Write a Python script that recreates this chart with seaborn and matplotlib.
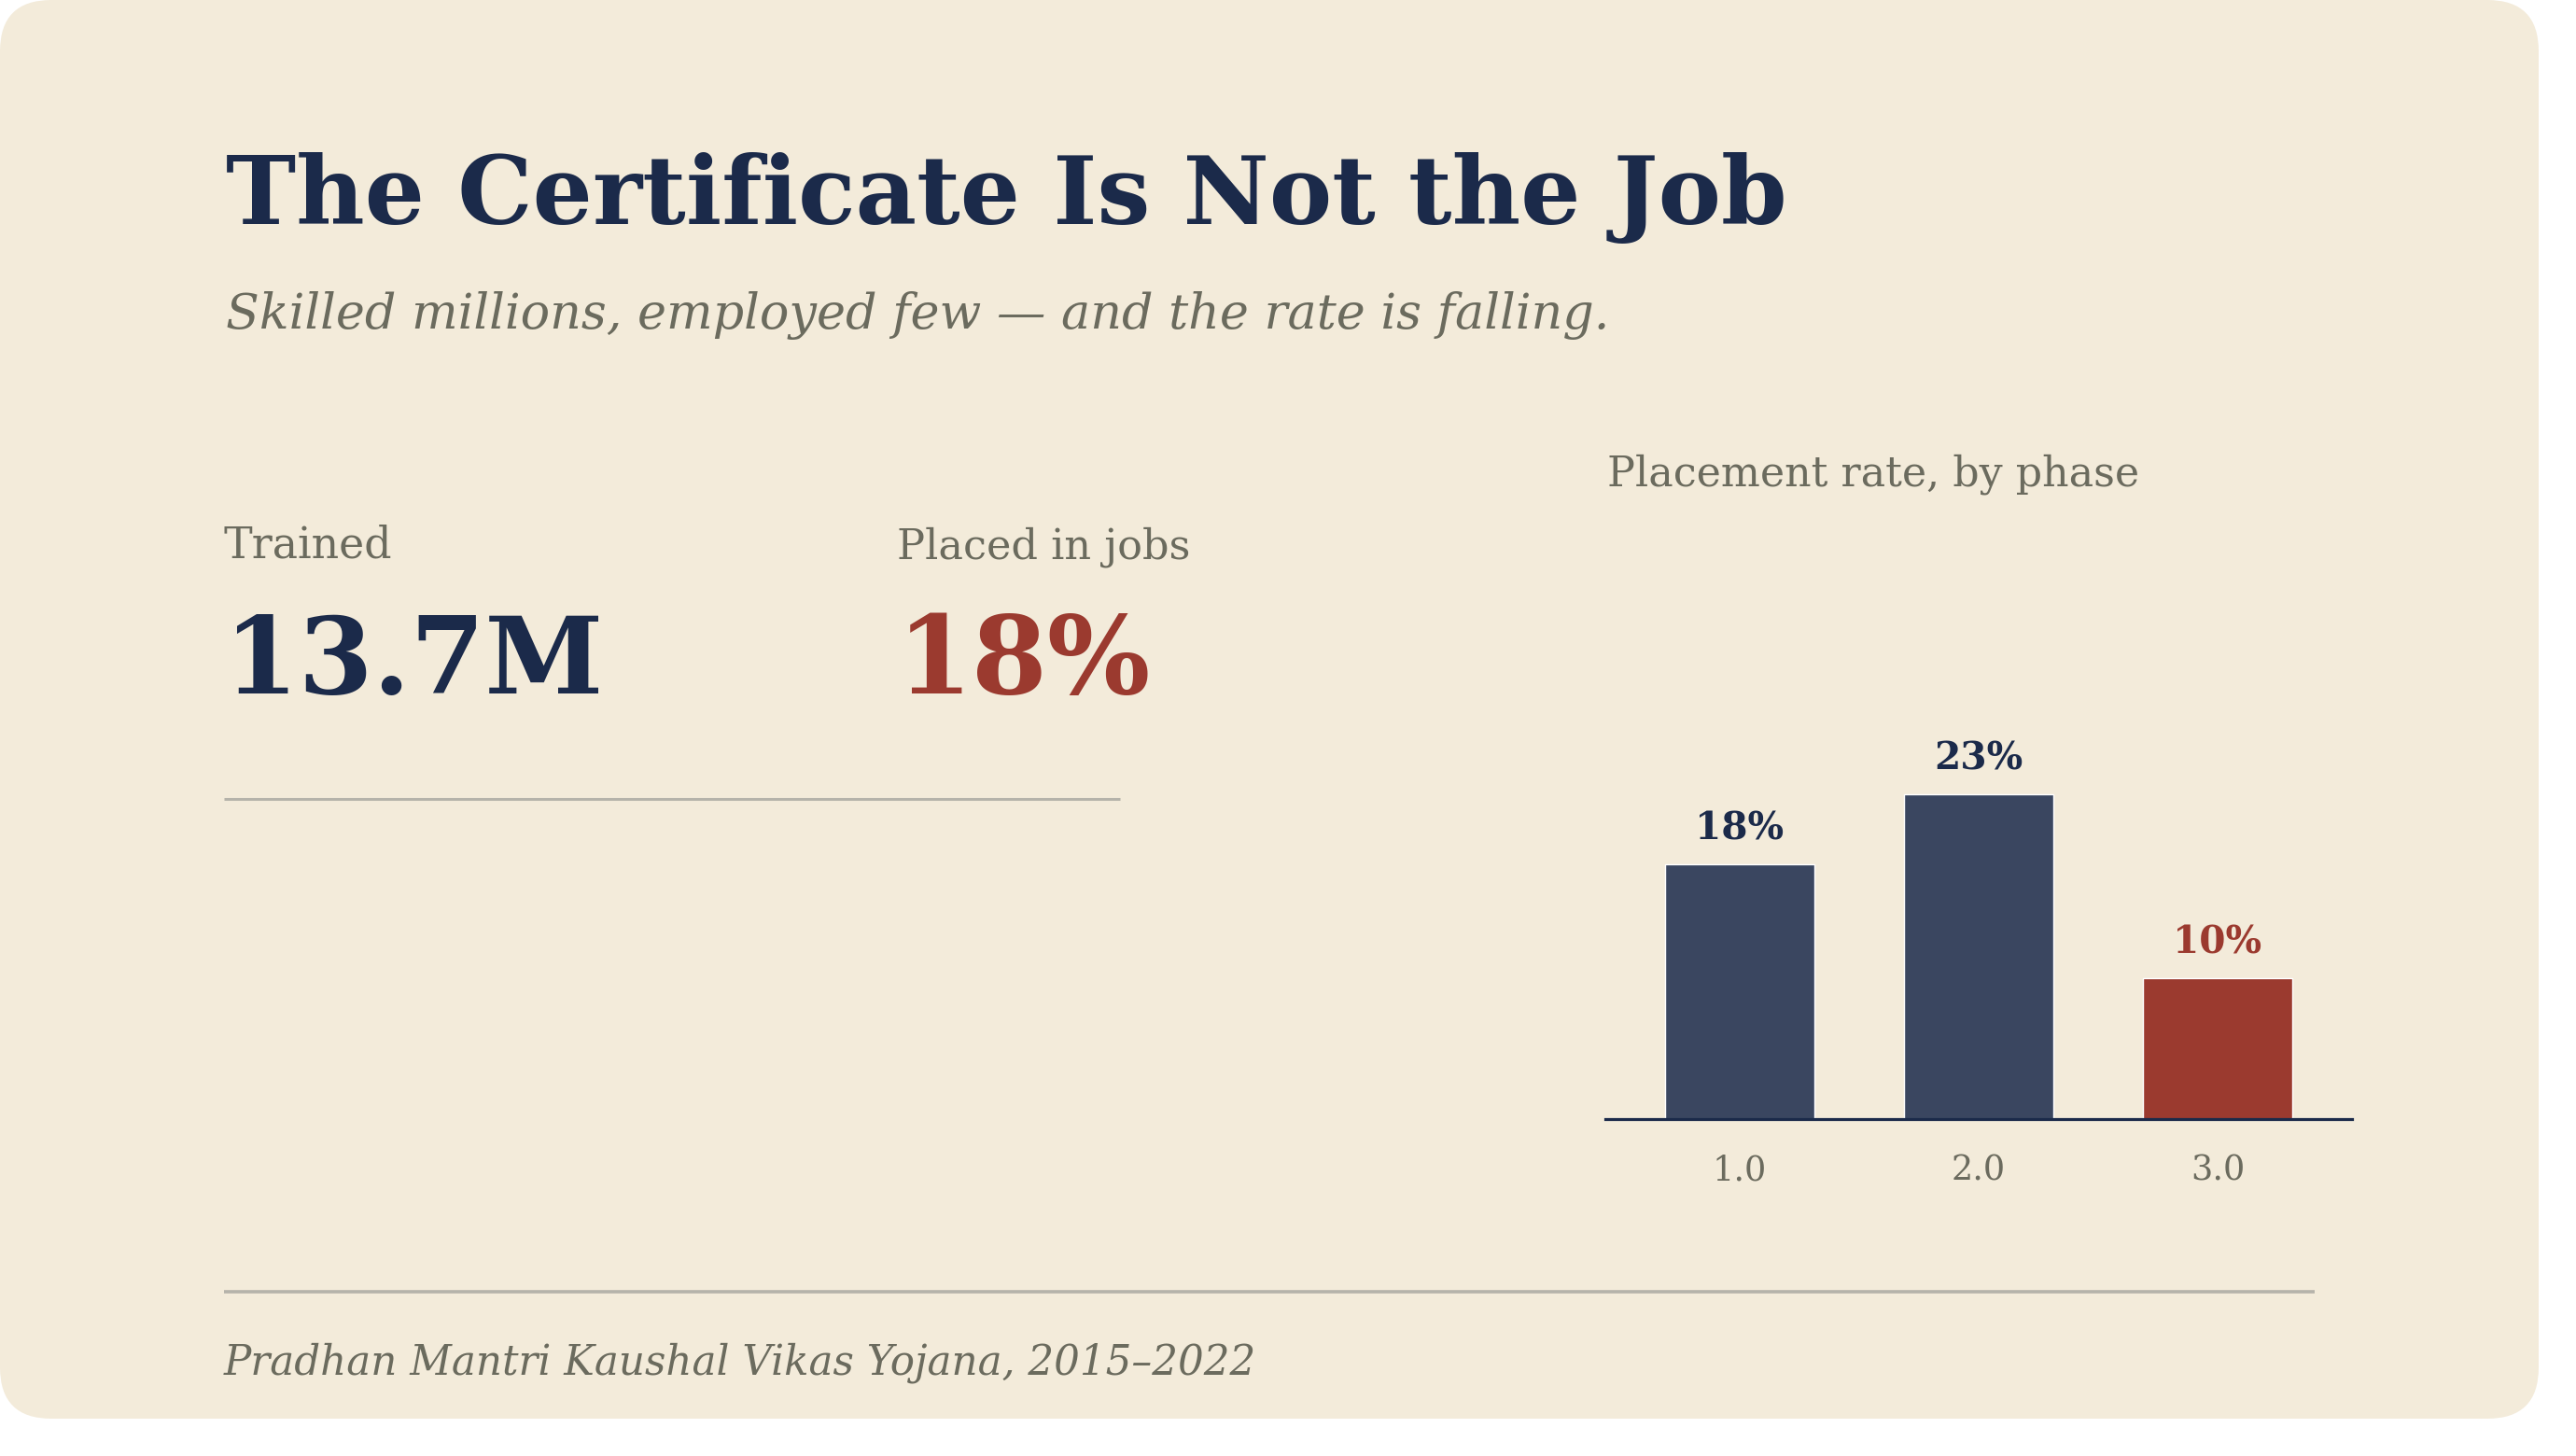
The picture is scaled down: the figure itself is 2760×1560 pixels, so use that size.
import matplotlib
matplotlib.use("Agg")
import matplotlib.pyplot as plt
from matplotlib.patches import FancyBboxPatch
import seaborn as sns
import pandas as pd

# ---- data ----
title = "The Certificate Is Not the Job"
subtitle = "Skilled millions, employed few \u2014 and the rate is falling."
kpi_labels = ["Trained", "Placed in jobs"]
kpi_values = ["13.7M", "18%"]
chart_title = "Placement rate, by phase"
phases = [1.0, 2.0, 3.0]
rates = [18, 23, 10]
source = "Pradhan Mantri Kaushal Vikas Yojana, 2015\u20132022"

# ---- style ----
BG = "#F3EBDA"
NAVY = "#1B2A4A"
BAR_NAVY = "#3A4660"
RED = "#9B3A2F"
GRAY = "#6B6B5E"
RULE = "#B5B3AA"

sns.set_style("white")
plt.rcParams["font.family"] = ["DejaVu Serif", "DejaVu Sans"]

W, H = 2760, 1560
fig = plt.figure(figsize=(W / 100, H / 100), dpi=100)
fig.patch.set_facecolor("white")
bg = fig.add_axes([0, 0, 1, 1])
bg.set_xlim(0, W)
bg.set_ylim(H, 0)
bg.axis("off")
bg.add_patch(FancyBboxPatch((0, 0), 2720, 1520,
                            boxstyle="round,pad=0,rounding_size=55",
                            fc=BG, ec="none", zorder=0))

renderer = fig.canvas.get_renderer()


def fit_text(ax, x, y, s, target_w, size0=40, **kw):
    t = ax.text(x, y, s, fontsize=size0, va="baseline", ha="left", **kw)
    w = t.get_window_extent(renderer).width
    t.set_fontsize(size0 * target_w / w)
    return t


fit_text(bg, 242, 240, title, 1671, weight="bold", color=NAVY)
fit_text(bg, 242, 352, subtitle, 1482, style="italic", color=GRAY)

fit_text(bg, 240, 598, kpi_labels[0], 180, color=GRAY)
fit_text(bg, 961, 598, kpi_labels[1], 314, color=GRAY)
fit_text(bg, 240, 743, kpi_values[0], 406, weight="bold", color=NAVY)
fit_text(bg, 961, 743, kpi_values[1], 272, weight="bold", color=RED)

bg.plot([240, 1200], [856, 856], color=RULE, lw=2.2, solid_capstyle="butt")
bg.plot([240, 2480], [1384, 1384], color=RULE, lw=2.6, solid_capstyle="butt")

fit_text(bg, 1722, 520, chart_title, 569, color=GRAY)
fit_text(bg, 240, 1472, source, 1104, style="italic", color=GRAY)

# ---- bar chart ----
px_per_unit = 15.15
ymax = 30
ax_left, ax_right, ax_base = 1720, 2520, 1199
ax_h = ymax * px_per_unit
ax = fig.add_axes([ax_left / W, (H - ax_base) / H, (ax_right - ax_left) / W, ax_h / H])
ax.set_facecolor("none")

df = pd.DataFrame({"phase": phases, "rate": rates})
bar_colors = [BAR_NAVY, BAR_NAVY, RED]
sns.barplot(data=df, x="phase", y="rate", hue="phase", palette=bar_colors,
            legend=False, width=0.625, saturation=1, ax=ax, zorder=2)
ax.set_xlim(-0.5625, 2.5625)
ax.set_ylim(0, ymax)
for sp in ["top", "right", "left"]:
    ax.spines[sp].set_visible(False)
ax.spines["bottom"].set_color(NAVY)
ax.spines["bottom"].set_linewidth(2.3)
ax.spines["bottom"].set_zorder(3)
ax.set_yticks([])
ax.set_xlabel("")
ax.set_ylabel("")
ax.grid(False)
ax.tick_params(axis="x", length=0, pad=27, labelcolor=GRAY)

# tick label sizing
tmp = ax.text(0, 0, "1.0", fontsize=30)
tw = tmp.get_window_extent(renderer).width
tmp.remove()
tick_size = 30 * 58 / tw
ax.set_xticks(range(len(phases)))
ax.set_xticklabels([f"{p:.1f}" for p in phases], fontsize=tick_size, color=GRAY)

tmp = ax.text(0, 0, "18%", fontsize=30, weight="bold")
lw_ = tmp.get_window_extent(renderer).width
tmp.remove()
lab_size = 30 * 95 / lw_
label_colors = [NAVY, NAVY, RED]
for i, (v, c) in enumerate(zip(rates, label_colors)):
    ax.annotate(f"{v}%", xy=(i, v), xytext=(0, 19), textcoords="offset points",
                ha="center", va="baseline", fontsize=lab_size, weight="bold",
                color=c, annotation_clip=False)

fig.savefig("out.png", dpi=100, facecolor="white")
